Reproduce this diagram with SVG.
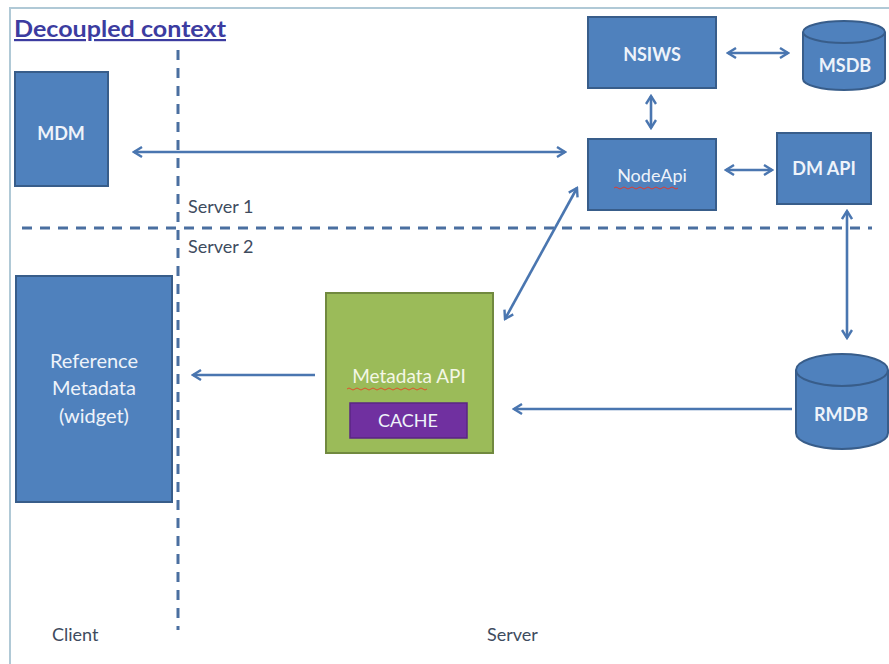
<svg xmlns="http://www.w3.org/2000/svg" width="889" height="664" viewBox="0 0 889 664">
<defs>
<marker id="ah" viewBox="0 0 12 12" refX="10" refY="6" markerWidth="12" markerHeight="12" markerUnits="userSpaceOnUse" orient="auto-start-reverse">
<polyline points="2,1 10,6 2,11" fill="none" stroke="#4a76b0" stroke-width="2.4" stroke-linejoin="miter"/>
</marker>
<style>
.box{fill:#4f81bd;stroke:#385d8a;stroke-width:2}
.lbl{font-family:Lato,"Open Sans","Liberation Sans",sans-serif;fill:#eef3fa;text-anchor:middle}
.b{font-weight:bold}
.conn{stroke:#4a76b0;stroke-width:2.6;fill:none;marker-start:url(#ah);marker-end:url(#ah)}
.one{stroke:#4a76b0;stroke-width:2.6;fill:none;marker-end:url(#ah)}
.dash{stroke:#4a6fa0;stroke-width:3;stroke-dasharray:10 8;fill:none}
.note{font-family:Lato,"Open Sans","Liberation Sans",sans-serif;font-size:18px;fill:#3e4b5e}
.squig{fill:none;stroke:#e03c31;stroke-width:1}
</style>
</defs>
<rect width="889" height="664" fill="#ffffff"/>
<path d="M10,664 V8 H889" fill="none" stroke="#b0c9d6" stroke-width="2"/>
<text x="14" y="37" font-family="Lato,'Open Sans','Liberation Sans',sans-serif" font-size="22" font-weight="bold" fill="#3c3ca0" textLength="212" lengthAdjust="spacingAndGlyphs" text-decoration="underline">Decoupled context</text>

<g id="dividers">
<line class="dash" x1="178" y1="50" x2="178" y2="630"/>
<line class="dash" x1="22" y1="228" x2="872" y2="228"/>
</g>
<text class="note" x="188" y="213">Server 1</text>
<text class="note" x="188" y="253">Server 2</text>
<text class="note" x="52" y="641">Client</text>
<text class="note" x="487" y="641">Server</text>

<g id="connectors">
<line class="conn" x1="134" y1="152" x2="565" y2="152"/>
<line class="conn" x1="728" y1="53" x2="788" y2="53"/>
<line class="conn" x1="651" y1="96" x2="651" y2="128"/>
<line class="conn" x1="726" y1="170" x2="772" y2="170"/>
<line class="conn" x1="847" y1="211" x2="847" y2="338"/>
<line class="conn" x1="577" y1="188" x2="505" y2="319"/>
<line class="one" x1="792" y1="409" x2="514" y2="409"/>
<line class="one" x1="315" y1="375" x2="193" y2="375"/>
</g>

<g id="mdm">
<rect class="box" x="15" y="72" width="93" height="114"/>
<text class="lbl b" x="61" y="140" font-size="18">MDM</text>
</g>

<g id="nsiws">
<rect class="box" x="588" y="17" width="128" height="71"/>
<text class="lbl b" x="652" y="61" font-size="18">NSIWS</text>
</g>

<g id="msdb">
<path class="box" d="M803,32 V79 A41,11 0 0 0 885,79 V32"/>
<ellipse class="box" cx="844" cy="32" rx="41" ry="11"/>
<text class="lbl b" x="845" y="72" font-size="18">MSDB</text>
</g>

<g id="nodeapi">
<rect class="box" x="588" y="139" width="128" height="71"/>
<text class="lbl" x="652" y="182" font-size="18">NodeApi</text>
<path class="squig" d="M614,188 q2,-2 4,0 t4,0 t4,0 t4,0 t4,0 t4,0 t4,0 t4,0 t4,0 t4,0 t4,0 t4,0 t4,0 t4,0 t4,0 t4,0"/>
</g>

<g id="dmapi">
<rect class="box" x="777" y="133" width="94" height="71"/>
<text class="lbl b" x="824" y="175" font-size="18">DM API</text>
</g>

<g id="rmdb">
<path class="box" d="M796,370 V433 A46,16 0 0 0 888,433 V370"/>
<ellipse class="box" cx="842" cy="370" rx="46" ry="16"/>
<text class="lbl b" x="841" y="421" font-size="18">RMDB</text>
</g>

<g id="refmeta">
<rect class="box" x="16" y="276" width="156" height="226"/>
<text class="lbl" x="94" y="368" font-size="20">Reference</text>
<text class="lbl" x="94" y="395" font-size="20">Metadata</text>
<text class="lbl" x="94" y="423" font-size="20">(widget)</text>
</g>

<g id="metadataapi">
<rect x="326" y="293" width="167" height="160" fill="#9bbb59" stroke="#71893f" stroke-width="2"/>
<text x="409" y="383" font-family="Lato,'Open Sans','Liberation Sans',sans-serif" font-size="19" fill="#f4f7e6" text-anchor="middle">Metadata API</text>
<path d="M347,389 q2,-2 4,0 t4,0 t4,0 t4,0 t4,0 t4,0 t4,0 t4,0 t4,0 t4,0 t4,0 t4,0 t4,0 t4,0 t4,0 t4,0 t4,0 t4,0 t4,0 t4,0" fill="none" stroke="#e0522c" stroke-width="1"/>
<g id="cache">
<rect x="350" y="403" width="117" height="35" fill="#7030a0" stroke="#5a2682" stroke-width="1.5"/>
<text class="lbl" x="408" y="427" font-size="18" fill="#f0e8f8">CACHE</text>
</g>
</g>
</svg>
